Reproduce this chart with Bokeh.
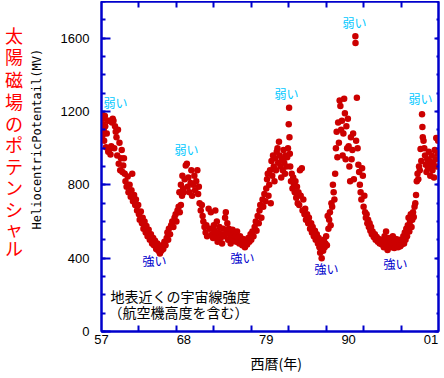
import math
from bokeh.plotting import figure
from bokeh.layouts import row
from bokeh.models import LinearAxis, FixedTicker, Label
from bokeh.core.properties import value
from bokeh.embed import file_html
from bokeh.resources import INLINE

# ---- data (year, heliocentric potential in MV) ----
yr_a = [1957.05, 1957.1, 1957.15, 1957.2, 1957.3, 1957.35, 1957.45, 1957.5, 1957.6, 1957.7,
        1957.8, 1957.9, 1958.0, 1958.1, 1958.2, 1958.3, 1958.4, 1958.5, 1958.6, 1958.7,
        1958.8, 1958.9, 1959.0, 1959.1, 1959.2, 1959.3, 1959.4, 1959.5, 1959.6, 1959.7,
        1959.8, 1959.9, 1960.0]
mv_a = [1185, 1130, 1070, 1160, 1100, 1040, 1175, 1120, 1005, 1080,
        1150, 980, 990, 1150, 965, 1010, 1140, 1160, 1150, 1000,
        1120, 1090, 1060, 960, 1100, 915, 1030, 880, 945, 990,
        870, 905, 945]

yr_b = [1960.1, 1960.2, 1960.35, 1960.5, 1960.6, 1960.75, 1960.9, 1961.0, 1961.1, 1961.2,
        1961.35, 1961.5, 1961.6, 1961.75, 1961.9, 1962.0, 1962.1, 1962.25, 1962.4, 1962.5,
        1962.6, 1962.75, 1962.9, 1963.0, 1963.15, 1963.3, 1963.45, 1963.6, 1963.75, 1963.9,
        1964.0, 1964.15, 1964.3, 1964.45, 1964.6, 1964.7, 1964.8, 1964.9, 1965.0, 1965.1,
        1965.25, 1965.4, 1965.55, 1965.7]
mv_b = [860, 820, 790, 845, 760, 800, 735, 770, 860, 710,
        745, 690, 720, 660, 690, 640, 610, 655, 590, 620,
        560, 600, 540, 575, 520, 555, 500, 530, 480, 510,
        470, 495, 450, 480, 440, 460, 425, 455, 440, 470,
        450, 490, 470, 510]

yr_c = [1965.8, 1965.9, 1966.0, 1966.15, 1966.3, 1966.45, 1966.6, 1966.75, 1966.9, 1967.0,
        1967.15, 1967.3, 1967.45, 1967.6, 1967.75, 1967.9,
        1967.4, 1967.6, 1967.8, 1968.0, 1968.1, 1968.25, 1968.4, 1968.5, 1968.6, 1968.75,
        1968.9, 1969.0, 1969.1, 1969.25, 1969.4, 1969.5, 1969.65, 1969.8, 1969.9, 1970.0,
        1970.1, 1970.25, 1970.4, 1970.5, 1970.6, 1970.75, 1970.9, 1971.0, 1971.1, 1971.3,
        1971.45, 1971.6, 1971.75, 1971.9, 1972.0]
mv_c = [540, 500, 560, 530, 580, 600, 570, 620, 640, 600,
        660, 680, 650, 690, 740, 780,
        760, 800, 850, 760, 830, 905, 915, 790, 840, 760,
        810, 880, 740, 800, 850, 770, 820, 880, 750, 790,
        700, 660, 690, 630, 600, 570, 540, 580, 520, 670,
        560, 650, 530, 510, 580]

yr_d = [1972.1, 1972.2, 1972.3, 1972.4, 1972.5, 1972.6, 1972.75, 1972.9, 1973.0, 1973.1,
        1973.25, 1973.4, 1973.5, 1973.6, 1973.7, 1973.8, 1973.9, 1974.0, 1974.1, 1974.25,
        1974.4, 1974.5, 1974.6, 1974.75, 1974.9, 1975.0, 1975.1, 1975.25, 1975.4, 1975.5,
        1975.65, 1975.8, 1975.9, 1976.0, 1976.15, 1976.3, 1976.45, 1976.6, 1976.75, 1976.9,
        1977.0, 1977.15, 1977.3, 1977.45, 1977.6, 1977.7, 1977.85, 1978.0, 1978.1, 1978.2,
        1978.35, 1978.5, 1978.6, 1978.75, 1978.9, 1979.0, 1979.1, 1979.2, 1979.3, 1979.4,
        1979.5, 1979.6]
mv_d = [550, 660, 520, 600, 490, 540, 570, 510, 530, 480,
        560, 520, 620, 650, 540, 590, 500, 560, 530, 480,
        510, 555, 495, 530, 520, 490, 545, 505, 480, 520,
        490, 470, 505, 480, 460, 495, 475, 510, 490, 530,
        500, 545, 520, 570, 600, 550, 630, 590, 660, 690,
        620, 720, 680, 750, 710, 780, 830, 860, 740, 800,
        880, 700]

yr_e = [1979.7, 1979.8, 1979.9, 1980.0, 1980.1, 1980.2, 1980.3, 1980.4, 1980.5, 1980.6,
        1980.7, 1980.8, 1980.9, 1981.0, 1981.1, 1981.2, 1981.3, 1981.4, 1981.5, 1981.6,
        1981.7, 1981.8, 1981.9, 1982.0, 1982.05, 1982.1, 1982.15, 1982.2, 1982.3, 1982.4,
        1982.5, 1982.6, 1982.7, 1982.8, 1982.9, 1983.0, 1983.1, 1983.2, 1983.3, 1983.4,
        1983.5, 1983.6, 1983.75, 1983.85, 1983.95]
mv_e = [930, 850, 960, 900, 820, 945, 880, 980, 1000, 920,
        1035, 960, 900, 840, 940, 880, 990, 920, 860, 960,
        900, 950, 1000, 1130, 1220, 1060, 970, 900, 820, 860,
        780, 840, 800, 760, 820, 730, 790, 700, 760, 690,
        880, 740, 890, 660, 720]

yr_f = [1984.1, 1984.2, 1984.3, 1984.45, 1984.6, 1984.7, 1984.85, 1985.0, 1985.1, 1985.2,
        1985.35, 1985.5, 1985.6, 1985.75, 1985.9, 1986.0, 1986.1, 1986.2, 1986.3, 1986.4,
        1986.5, 1986.6, 1986.7, 1986.8, 1986.9, 1987.0, 1987.1, 1987.2, 1987.3, 1987.4,
        1987.5, 1987.6, 1987.7, 1987.8, 1987.9, 1988.0, 1988.1]
mv_f = [640, 670, 610, 640, 590, 620, 560, 590, 540, 570,
        520, 550, 500, 530, 480, 510, 460, 430, 490, 400,
        470, 440, 500, 460, 480, 520, 470, 630, 560, 610,
        650, 580, 700, 680, 800, 760, 720]

yr_g = [1988.2, 1988.3, 1988.4, 1988.5, 1988.6, 1988.7, 1988.8, 1988.9, 1989.0, 1989.1,
        1989.2, 1989.3, 1989.4, 1989.5, 1989.6, 1989.7, 1989.8, 1989.9, 1990.0, 1990.1,
        1990.2, 1990.3, 1990.4, 1990.5, 1990.6, 1990.7, 1990.9, 1990.92, 1991.0, 1991.1,
        1991.2, 1991.3, 1991.4, 1991.5, 1991.6, 1991.7, 1991.8, 1991.9, 1992.0, 1992.1,
        1992.2, 1992.3, 1992.4, 1992.5, 1992.6, 1992.7, 1992.8, 1992.9, 1993.0, 1993.1,
        1993.2, 1993.35, 1993.5, 1993.6, 1993.75, 1993.9, 1994.0, 1994.15, 1994.3, 1994.45]
mv_g = [860, 1000, 1090, 950, 1140, 1030, 1260, 1230, 1100, 1150,
        960, 1080, 1270, 1190, 940, 1120, 1000, 1160, 1010, 900,
        820, 1060, 940, 990, 1080, 830, 1611, 1573, 1040, 1275,
        1000, 910, 870, 800, 760, 720, 890, 850, 680, 740,
        650, 620, 640, 590, 610, 570, 590, 550, 570, 530,
        545, 515, 530, 500, 515, 490, 505, 480, 500, 475]

yr_h = [1994.6, 1994.7, 1994.8, 1994.9, 1995.0, 1995.1, 1995.2, 1995.3, 1995.4, 1995.5,
        1995.6, 1995.7, 1995.8, 1995.9, 1996.0, 1996.1, 1996.2, 1996.3, 1996.4, 1996.5,
        1996.6, 1996.7, 1996.8, 1996.9, 1997.0, 1997.1, 1997.2, 1997.3, 1997.4, 1997.5,
        1997.6, 1997.7, 1997.8, 1997.9, 1998.0, 1998.1, 1998.2, 1998.3, 1998.4, 1998.5,
        1998.6, 1998.7, 1998.8, 1998.9, 1999.0]
mv_h = [500, 460, 520, 480, 545, 470, 445, 490, 510, 470,
        495, 460, 480, 520, 470, 455, 490, 505, 470, 485,
        460, 500, 480, 465, 490, 475, 500, 520, 480, 540,
        500, 560, 520, 580, 620, 545, 600, 640, 570, 610,
        650, 625, 680, 700, 745]

yr_i = [1999.1, 1999.2, 1999.3, 1999.4, 1999.5, 1999.6, 1999.7, 1999.8, 1999.85, 1999.9,
        2000.0, 2000.1, 2000.2, 2000.3, 2000.4, 2000.5, 2000.6, 2000.7, 2000.8, 2000.9,
        2001.0, 2001.1, 2001.2, 2001.3, 2001.4, 2001.5, 2001.6, 2001.7, 2001.8, 2001.9,
        2001.95]
mv_i = [820, 860, 830, 900, 880, 995, 930, 1185, 1115, 1060,
        1040, 1000, 960, 910, 870, 940, 890, 980, 930, 850,
        900, 960, 880, 920, 840, 990, 940, 1055, 900, 970,
        1040]

years = yr_a + yr_b + yr_c + yr_d + yr_e + yr_f + yr_g + yr_h + yr_i
potential = mv_a + mv_b + mv_c + mv_d + mv_e + mv_f + mv_g + mv_h + mv_i

x_label_ticks = [1957, 1968, 1979, 1990, 2001]
x_label_text = ["57", "68", "79", "90", "01"]
x_minor_ticks = [1962, 1967, 1972, 1977, 1982, 1987, 1992, 1997]
y_major_ticks = [0, 400, 800, 1200, 1600]
y_minor_ticks = list(range(0, 1801, 100))

weak_label = "弱い"
strong_label = "強い"
side_title = "太陽磁場のポテンシャル"
y_title = "HeliocentricPotentail(MV)"
x_title = "西暦(年)"
note_1 = "地表近くの宇宙線強度"
note_2 = "（航空機高度を含む）"

# ---- layout (page pixels) ----
X0, X1, Y0, Y1 = 1957, 2002, 0, 1800
FL, FT, FW, FH = 101, 1, 337, 330   # main frame box
PAGE_L, PAGE_T = 4, 1               # where the layout starts
SPLIT = 50                           # boundary between side panel and main figure
H = 374
BLUE = "#0000CC"
JP = "Noto Sans CJK JP"

def X(px):
    return X0 + (px - FL) * (X1 - X0) / FW

def Y(py):
    return Y1 - (py - FT) * (Y1 - Y0) / FH

# side panel carrying the vertical titles
side = figure(width=SPLIT - PAGE_L, height=H, x_range=(PAGE_L, SPLIT), y_range=(0, H),
              output_backend="svg", toolbar_location=None, min_border=0,
              x_axis_location=None, y_axis_location=None)
side.grid.visible = False
side.outline_line_color = None
side.background_fill_color = "white"
side.border_fill_color = "white"

def SY(py):
    return PAGE_T + H - py

side_y = [38.7, 63.3, 88.3, 113.3, 138.3, 163, 187.5, 211, 236, 258, 280]
side.text(x=[13.5] * len(side_title), y=[SY(v) for v in side_y], text=list(side_title),
          text_color="#FF0000", text_font=value(JP), text_font_size="18px",
          text_align="center", text_baseline="middle")
side.text(x=[36], y=[SY(157)], text=[y_title], angle=math.pi / 2,
          text_color="black", text_font=value("DejaVu Sans Mono"), text_font_size="12px",
          text_align="center", text_baseline="middle")

# main chart
p = figure(width=FL - SPLIT + FW + 4, height=H, x_range=(X0, X1), y_range=(Y0, Y1),
           output_backend="svg", toolbar_location=None,
           min_border_left=FL - SPLIT, min_border_right=4, min_border_top=0, min_border_bottom=H - FH)
p.xgrid.visible = False
p.ygrid.visible = False
p.outline_line_color = BLUE
p.outline_line_width = 2
p.background_fill_color = "white"
p.border_fill_color = "white"

xt = FixedTicker(ticks=x_label_ticks, minor_ticks=x_minor_ticks)
yt = FixedTicker(ticks=y_major_ticks, minor_ticks=y_minor_ticks)

def style(ax, maj_in, min_in, show_labels):
    ax.axis_line_color = BLUE
    ax.axis_line_width = 2
    ax.major_tick_line_color = BLUE
    ax.minor_tick_line_color = BLUE
    ax.major_tick_line_width = 2
    ax.minor_tick_line_width = 2
    ax.major_tick_in = maj_in
    ax.major_tick_out = 0
    ax.minor_tick_in = min_in
    ax.minor_tick_out = 0
    if show_labels:
        ax.major_label_text_font = "Liberation Sans"
        ax.major_label_text_font_size = "13px"
        ax.major_label_text_color = "black"
    else:
        ax.major_label_text_font_size = "0px"
        ax.major_label_text_color = None
        ax.major_label_standoff = 0

bx = p.xaxis[0]
bx.ticker = xt
bx.major_label_overrides = {t: s for t, s in zip(x_label_ticks, x_label_text)}
style(bx, 0, 6, True)
bx.major_label_standoff = 3
bx.axis_label = "\u00a0\u00a0\u00a0\u00a0" + x_title
bx.axis_label_text_font = JP
bx.axis_label_text_font_size = "14px"
bx.axis_label_text_font_style = "normal"
bx.axis_label_text_color = "black"
bx.axis_label_standoff = 6

ly = p.yaxis[0]
ly.ticker = yt
style(ly, 9, 4, True)
ly.major_label_standoff = 12

top = LinearAxis(ticker=xt)
style(top, 0, 6, False)
p.add_layout(top, "above")

ry = LinearAxis(ticker=yt)
style(ry, 4, 2, False)
p.add_layout(ry, "right")

p.scatter(years, potential, size=6.5, marker="circle", fill_color="#CC0000", line_color=None)

def lab(px, py, text, color, size, align="center"):
    p.add_layout(Label(x=X(px), y=Y(py), text=text, text_color=color, text_font=JP,
                       text_font_size=size, text_align=align, text_baseline="middle"))

for (px, py) in [(115, 102), (186, 149), (286, 93), (354, 22), (420, 98)]:
    lab(px, py, weak_label, "#00C8FF", "12px")
for (px, py) in [(154, 260), (242, 257), (326, 268), (395, 263)]:
    lab(px, py, strong_label, BLUE, "12px")

lab(110, 295, note_1, "black", "14px", align="left")
lab(108, 311, note_2, "black", "14px", align="left")

layout = row(side, p)
layout.margin = (PAGE_T, 0, 0, PAGE_L)

open("out.html", "w").write(file_html(layout, INLINE))
